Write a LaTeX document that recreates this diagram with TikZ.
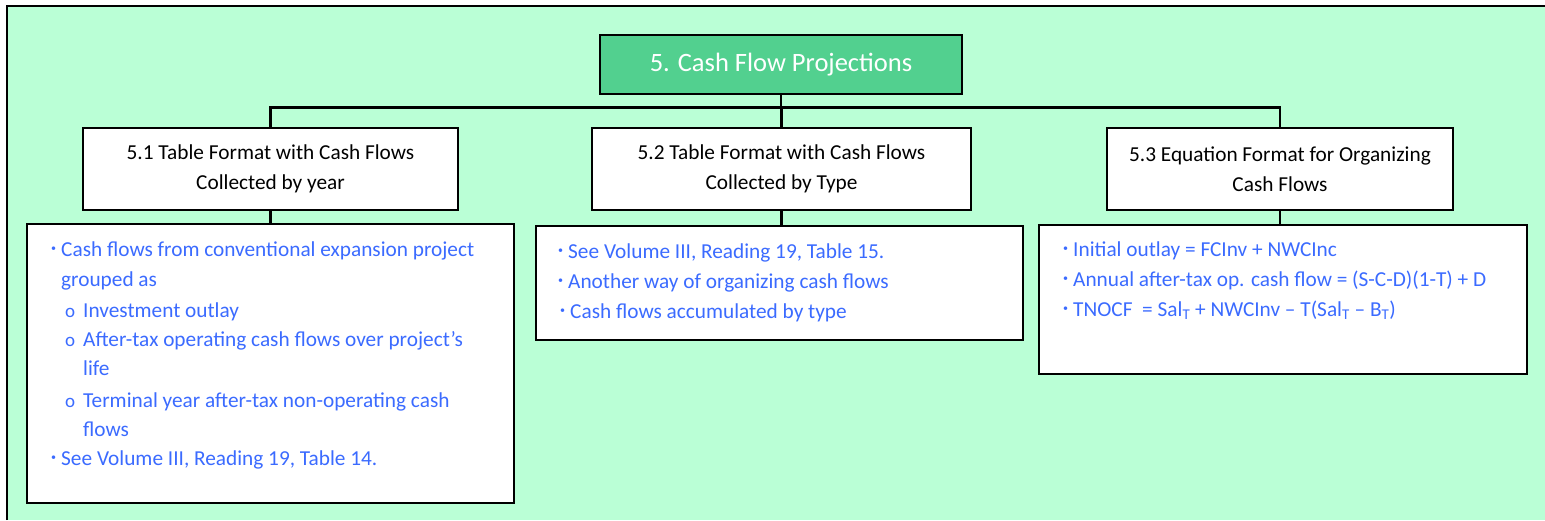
\documentclass[tikz,border=0pt]{standalone}
\usepackage{fontspec}
\setmainfont{Carlito}
\definecolor{bgreen}{RGB}{186,255,214}
\definecolor{tgreen}{RGB}{82,208,143}
\definecolor{tblue}{RGB}{59,107,255}
\newcommand{\bul}{\raisebox{4.5pt}{\fontsize{10pt}{10pt}\selectfont •}}
\newcommand{\subbul}{{\fontsize{19pt}{19pt}\selectfont o}}
\begin{document}
\begin{tikzpicture}[x=1pt,y=-1pt,
  box/.style={draw=black,line width=2.2pt,fill=white,inner sep=0pt},
  titlebox/.style={box,fill=tgreen,text=white,font=\fontsize{26.5pt}{30pt}\selectfont},
  childbox/.style={box,align=center,font=\fontsize{21.3pt}{30pt}\selectfont},
  line/.style={anchor=base west,inner sep=0pt,text=tblue,font=\fontsize{21.3pt}{24pt}\selectfont},
  conn/.style={draw=black,line width=2.2pt}]
\useasboundingbox (0,0) rectangle (1545,520);
\fill[white] (0,0) rectangle (1545,520);
\fill[bgreen] (7,6) rectangle (1545,520);
\draw[line width=2.4pt] (7,520) -- (7,6) -- (1545,6);

% nodes
\node[titlebox,minimum width=362pt,minimum height=59pt] (title) at (781,64.5) {5. Cash Flow Projections};
\node[childbox,minimum width=375pt,minimum height=82pt] (c1) at (270.5,169) {5.1 Table Format with Cash Flows\\Collected by year};
\node[childbox,minimum width=379pt,minimum height=82pt] (c2) at (781.5,169) {5.2 Table Format with Cash Flows\\Collected by Type};
\node[childbox,minimum width=346pt,minimum height=82pt] (c3) at (1280,169) {5.3 Equation Format for Organizing\\Cash Flows};
\node[box,minimum width=487pt,minimum height=279pt] (d1) at (270.5,363.5) {};
\node[box,minimum width=487pt,minimum height=114pt] (d2) at (779.5,283) {};
\node[box,minimum width=488pt,minimum height=149pt] (d3) at (1283,299.5) {};

% connectors
\coordinate (bus) at (781,107.5);
\draw[conn] (title.south) -- (title.south |- bus);
\draw[conn] (c1.north) |- (c3.north |- bus) -- (c3.north);
\draw[conn] (c2.north) -- (c2.north |- bus);
\draw[conn] (c1.south) -- (c1.south |- d1.north);
\draw[conn] (c2.south) -- (c2.south |- d2.north);
\draw[conn] (c3.south) -- (c3.south |- d3.north);

% box 1 text
\node[line] (a1) at (61,256) {\llap{\bul\hspace{5pt}}Cash flows from conventional expansion project};
\node[line] (a2) at (61,286) {grouped as};
\node[line] (a3) at (83,317) {\llap{\subbul\hspace{8pt}}Investment outlay};
\node[line] (a4) at (83,346) {\llap{\subbul\hspace{8pt}}After-tax operating cash flows over project’s};
\node[line] (a5) at (83,375) {life};
\node[line] (a6) at (83,407) {\llap{\subbul\hspace{8pt}}Terminal year after-tax non-operating cash};
\node[line] (a7) at (83,436) {flows};
\node[line] (a8) at (61,465) {\llap{\bul\hspace{5pt}}See Volume III, Reading 19, Table 14.};

% box 2 text
\node[line] (b1) at (568,258) {\llap{\bul\hspace{5pt}}See Volume III, Reading 19, Table 15.};
\node[line] (b2) at (568,288) {\llap{\bul\hspace{5pt}}Another way of organizing cash flows};
\node[line] (b3) at (570,318) {\llap{\bul\hspace{5pt}}Cash flows accumulated by type};

% box 3 text
\node[line] (e1) at (1073,256) {\llap{\bul\hspace{5pt}}Initial outlay = FCInv + NWCInc};
\node[line] (e2) at (1073,286) {\llap{\bul\hspace{5pt}}Annual after-tax op. cash flow = (S-C-D)(1-T) + D};
\node[line] (e3) at (1073,316) {\llap{\bul\hspace{5pt}}TNOCF\ \ = Sal\textsubscript{T} + NWCInv – T(Sal\textsubscript{T} – B\textsubscript{T})};
\end{tikzpicture}
\end{document}
